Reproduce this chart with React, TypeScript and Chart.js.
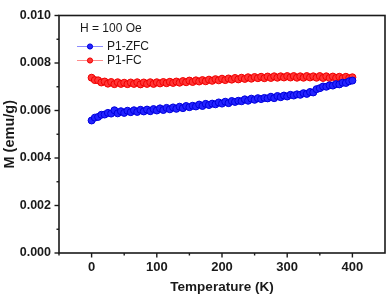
import React, { useEffect, useRef } from "react";
import { Chart, registerables } from "chart.js";

Chart.register(...registerables);

const temperatures: number[] = [
  0, 5, 10, 15, 20, 25, 30, 35, 40, 45, 50, 55, 60, 65, 70, 75, 80, 85, 90, 95,
  100, 105, 110, 115, 120, 125, 130, 135, 140, 145, 150, 155, 160, 165, 170, 175, 180, 185, 190, 195,
  200, 205, 210, 215, 220, 225, 230, 235, 240, 245, 250, 255, 260, 265, 270, 275, 280, 285, 290, 295,
  300, 305, 310, 315, 320, 325, 330, 335, 340, 345, 350, 355, 360, 365, 370, 375, 380, 385, 390, 395, 400,
];

const zfcValues: number[] = [
  0.00558, 0.0057, 0.00573, 0.00582, 0.00583, 0.0059, 0.00587, 0.00601, 0.00588, 0.00597,
  0.0059, 0.00599, 0.00593, 0.00601, 0.00594, 0.00603, 0.00596, 0.00604, 0.00597, 0.00606,
  0.006, 0.00609, 0.00602, 0.00611, 0.00605, 0.00613, 0.00607, 0.00616, 0.0061, 0.00619,
  0.00614, 0.0062, 0.00617, 0.00625, 0.00619, 0.00628, 0.00623, 0.00629, 0.00626, 0.00634,
  0.00629, 0.00637, 0.00631, 0.0064, 0.00636, 0.00641, 0.00639, 0.00647, 0.00641, 0.0065,
  0.00645, 0.00652, 0.00648, 0.00653, 0.00651, 0.00658, 0.00652, 0.00661, 0.00656, 0.00663,
  0.00659, 0.00666, 0.00663, 0.00668, 0.00666, 0.00673, 0.0067, 0.00678, 0.00676, 0.0069,
  0.00694, 0.00701, 0.007, 0.00706, 0.00705, 0.00711, 0.0071, 0.00717, 0.00716, 0.00723, 0.00726,
];

const fcValues: number[] = [
  0.00738, 0.00728, 0.00727, 0.00718, 0.00722, 0.00713, 0.0072, 0.00711, 0.00719, 0.00712,
  0.00717, 0.00711, 0.00718, 0.00712, 0.00719, 0.0071, 0.00718, 0.00712, 0.00719, 0.00712,
  0.00719, 0.00714, 0.0072, 0.00715, 0.00721, 0.00716, 0.00722, 0.00717, 0.00724, 0.00719,
  0.00726, 0.0072, 0.00727, 0.00722, 0.00728, 0.00723, 0.0073, 0.00725, 0.00732, 0.00727,
  0.00734, 0.00728, 0.00735, 0.0073, 0.00737, 0.00731, 0.00738, 0.00733, 0.0074, 0.00734,
  0.00741, 0.00736, 0.00742, 0.00736, 0.00743, 0.00737, 0.00744, 0.00738, 0.00744, 0.00739,
  0.00745, 0.00739, 0.00745, 0.00738, 0.00744, 0.00738, 0.00745, 0.00739, 0.00744, 0.00738,
  0.00745, 0.00737, 0.00744, 0.00737, 0.00743, 0.00737, 0.00742, 0.00736, 0.00742, 0.00736, 0.0074,
];

const xMajorTicks: number[] = [0, 100, 200, 300, 400];
const xMinorTicks: number[] = [-50, 50, 150, 250, 350];
const yMajorTicks: number[] = [0, 0.002, 0.004, 0.006, 0.008, 0.01];
const yMinorTicks: number[] = [0.001, 0.003, 0.005, 0.007, 0.009];

const seriesNames: string[] = ["P1-ZFC", "P1-FC"];
const fieldLabel = "H = 100 Oe";

const FONT = "Arial, 'Liberation Sans', Helvetica, sans-serif";
const BLUE = "#2424ff";
const BLUE_EDGE = "#0000dc";
const RED = "#ff3636";
const RED_EDGE = "#f00000";

const framePlugin = {
  id: "frameAndLegend",
  afterDatasetsDraw(chart: any) {
    const { ctx, chartArea, scales } = chart;
    const { left, right, top, bottom } = chartArea;
    ctx.save();
    ctx.strokeStyle = "#1a1a1a";
    ctx.lineWidth = 1.6;
    ctx.strokeRect(left, top, right - left, bottom - top);

    ctx.lineWidth = 1.4;
    const drawX = (v: number, len: number) => {
      const px = scales.x.getPixelForValue(v);
      ctx.beginPath();
      ctx.moveTo(px, bottom);
      ctx.lineTo(px, bottom + len);
      ctx.stroke();
    };
    const drawY = (v: number, len: number) => {
      const py = scales.y.getPixelForValue(v);
      ctx.beginPath();
      ctx.moveTo(left, py);
      ctx.lineTo(left - len, py);
      ctx.stroke();
    };
    xMajorTicks.forEach((v) => drawX(v, 4.5));
    xMinorTicks.forEach((v) => drawX(v, 2.5));
    yMajorTicks.forEach((v) => drawY(v, 4.5));
    yMinorTicks.forEach((v) => drawY(v, 2.5));

    // annotation
    ctx.fillStyle = "#1a1a1a";
    ctx.font = `12px ${FONT}`;
    ctx.textBaseline = "middle";
    ctx.textAlign = "left";
    ctx.fillText(fieldLabel, left + 21, top + 13);

    // legend
    const items = [
      { name: seriesNames[0], line: "rgba(90,90,255,0.7)", fill: BLUE, edge: BLUE_EDGE },
      { name: seriesNames[1], line: "rgba(255,90,90,0.7)", fill: RED, edge: RED_EDGE },
    ];
    items.forEach((it, i) => {
      const y = top + 31 + i * 14;
      ctx.strokeStyle = it.line;
      ctx.lineWidth = 1;
      ctx.beginPath();
      ctx.moveTo(left + 18, y);
      ctx.lineTo(left + 44, y);
      ctx.stroke();
      ctx.beginPath();
      ctx.arc(left + 31, y, 2.6, 0, Math.PI * 2);
      ctx.fillStyle = it.fill;
      ctx.fill();
      ctx.strokeStyle = it.edge;
      ctx.stroke();
      ctx.fillStyle = "#1a1a1a";
      ctx.fillText(it.name, left + 48, y + 0.5);
    });
    ctx.restore();
  },
};

export default function App() {
  const canvasRef = useRef<HTMLCanvasElement | null>(null);

  useEffect(() => {
    document.body.style.margin = "0";
    const canvas = canvasRef.current;
    if (!canvas) return;
    const chart = new Chart(canvas, {
      type: "scatter",
      data: {
        datasets: [
          {
            label: seriesNames[0],
            data: temperatures.map((t, i) => ({ x: t, y: zfcValues[i] })),
            showLine: true,
            borderColor: "rgba(90,90,255,0.6)",
            borderWidth: 1,
            pointRadius: 3.5,
            pointBackgroundColor: BLUE,
            pointBorderColor: BLUE_EDGE,
            pointBorderWidth: 1,
          },
          {
            label: seriesNames[1],
            data: temperatures.map((t, i) => ({ x: t, y: fcValues[i] })),
            showLine: true,
            borderColor: "rgba(255,90,90,0.6)",
            borderWidth: 1,
            pointRadius: 3.5,
            pointBackgroundColor: RED,
            pointBorderColor: RED_EDGE,
            pointBorderWidth: 1,
          },
        ],
      },
      options: {
        animation: false,
        responsive: false,
        maintainAspectRatio: false,
        layout: { padding: { top: 7, right: 3, left: 0, bottom: 0 } },
        plugins: {
          legend: { display: false },
          tooltip: { enabled: false },
        },
        scales: {
          x: {
            type: "linear",
            min: -50,
            max: 450,
            grid: { display: false, drawTicks: false },
            border: { display: false },
            ticks: {
              stepSize: 50,
              autoSkip: false,
              maxRotation: 0,
              padding: 7,
              color: "#1a1a1a",
              font: { family: FONT, size: 13, weight: "bold" },
              callback: (v: any) => (xMajorTicks.includes(Number(v)) ? String(v) : ""),
            },
            title: {
              display: true,
              text: "Temperature (K)",
              color: "#1a1a1a",
              font: { family: FONT, size: 13.5, weight: "bold" },
              padding: { top: 0, bottom: 2 },
            },
            afterFit: (scale: any) => {
              scale.height = 44;
            },
          },
          y: {
            type: "linear",
            min: 0,
            max: 0.01,
            grid: { display: false, drawTicks: false },
            border: { display: false },
            ticks: {
              stepSize: 0.002,
              padding: 8,
              color: "#1a1a1a",
              font: { family: FONT, size: 12.5, weight: "bold" },
              callback: (v: any) => Number(v).toFixed(3),
            },
            title: {
              display: true,
              text: "M (emu/g)",
              color: "#1a1a1a",
              font: { family: FONT, size: 14.5, weight: "bold" },
              padding: { top: 1.3, bottom: 0 },
            },
            afterFit: (scale: any) => {
              scale.width = 59;
            },
          },
        },
      },
      plugins: [framePlugin],
    });
    return () => chart.destroy();
  }, []);

  return (
    <div style={{ width: 392, height: 297, background: "#fff" }}>
      <canvas ref={canvasRef} width={392} height={297} style={{ display: "block" }} />
    </div>
  );
}
